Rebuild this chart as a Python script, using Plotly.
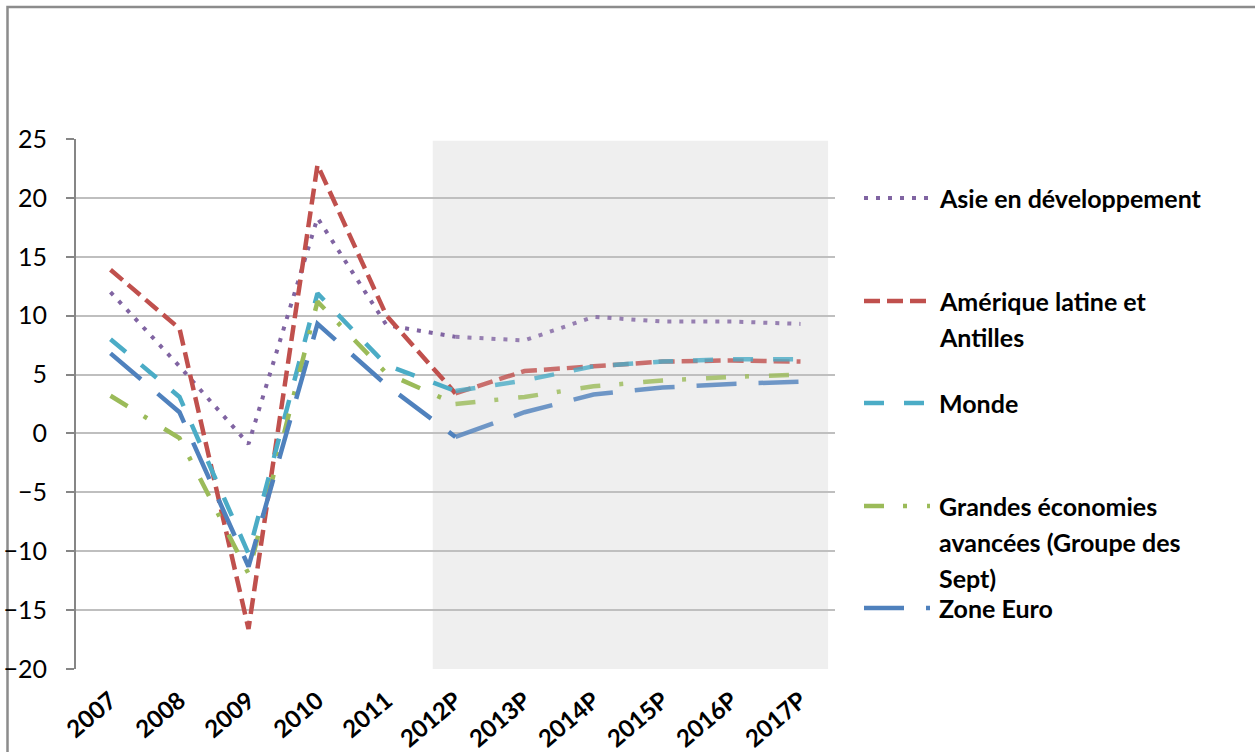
import plotly.graph_objects as go

# Années (P = projection)
years = ["2007", "2008", "2009", "2010", "2011", "2012P",
         "2013P", "2014P", "2015P", "2016P", "2017P"]

asie = [12.0, 5.7, -0.9, 18.3, 9.2, 8.2, 7.9, 9.9, 9.5, 9.5, 9.3]
amerique = [13.9, 8.9, -16.6, 22.8, 10.0, 3.4, 5.3, 5.7, 6.1, 6.2, 6.1]
monde = [8.0, 3.1, -10.2, 11.9, 5.8, 3.6, 4.5, 5.7, 6.1, 6.3, 6.3]
g7 = [3.2, -0.4, -11.9, 11.2, 5.1, 2.5, 3.1, 4.0, 4.5, 4.8, 5.0]
zone_euro = [6.8, 1.8, -11.3, 9.3, 4.1, -0.3, 1.8, 3.3, 3.9, 4.2, 4.4]

y_ticks = [-20, -15, -10, -5, 0, 5, 10, 15, 20, 25]

# nom (lignes de légende), valeurs, couleur, tirets, épaisseur
series = [
    (["Asie en développement"], asie, "#8064A2", "4px,8px", 4),
    (["Amérique latine et", "Antilles"], amerique, "#C0504D", "16px,7px", 4.5),
    (["Monde"], monde, "#4BACC6", "20px,20px", 4.5),
    (["Grandes économies", "avancées (Groupe des", "Sept)"], g7, "#9BBB59",
     "20px,19px,4px,20px", 4.5),
    (["Zone Euro"], zone_euro, "#4F81BD", "40px,22px", 4.5),
]

FONT = "Lato"
W, H = 1255, 752
L, R, T, B = 76, 835, 139, 669   # zone de tracé en pixels

def px(xp):
    return (xp - L) / (R - L)

def py(yp):
    return (B - yp) / (B - T)

split = years.index("2012P")

fig = go.Figure()

for names, vals, color, dash, width in series:
    # historique
    fig.add_trace(go.Scatter(
        x=years[:split + 1], y=vals[:split + 1], mode="lines",
        line=dict(color=color, width=width, dash=dash),
        showlegend=False, hoverinfo="x+y",
    ))
    # projections, un peu plus claires
    fig.add_trace(go.Scatter(
        x=years[split:], y=vals[split:], mode="lines",
        line=dict(color=color, width=width, dash=dash),
        opacity=0.8, showlegend=False, hoverinfo="x+y",
    ))

# zone grisée des projections
fig.add_shape(type="rect", xref="x", yref="y", x0=4.67, x1=10.4, y0=-20, y1=24.85,
              fillcolor="#EFEFEF", line=dict(width=0), layer="below")

# cadre extérieur
fig.add_shape(type="rect", xref="paper", yref="paper",
              x0=px(7.5), x1=px(1300), y0=py(800), y1=py(7),
              line=dict(color="#8C8C8C", width=2.5), fillcolor="rgba(0,0,0,0)",
              layer="below")

# légende à droite
legend_y = [198, 301, 403, 506, 608]
for (names, vals, color, dash, width), yl in zip(series, legend_y):
    fig.add_shape(type="line", xref="paper", yref="paper",
                  x0=px(864), x1=px(930), y0=py(yl), y1=py(yl),
                  line=dict(color=color, width=width, dash=dash))
    for i, line in enumerate(names):
        fig.add_annotation(
            xref="paper", yref="paper", x=px(937), y=py(yl + 36 * i),
            xanchor="left", yanchor="middle", showarrow=False,
            text="<b>" + line + "</b>",
            font=dict(family=FONT, size=25, color="black"),
        )

fig.update_layout(
    width=W, height=H,
    margin=dict(l=L, r=W - R, t=T, b=H - B, pad=0),
    plot_bgcolor="white", paper_bgcolor="white",
    showlegend=False,
    xaxis=dict(
        type="category", categoryorder="array", categoryarray=years,
        range=[-0.5, 10.5], showgrid=False, zeroline=False, showline=False,
        ticks="", tickangle=-40, ticklabelstandoff=12, automargin=False,
        tickfont=dict(family=FONT, size=24, color="black", weight="bold"),
    ),
    # ligne de l'axe des abscisses à y = 0, avec graduations
    xaxis2=dict(
        overlaying="x", anchor="free", position=20 / 45, side="bottom",
        range=[-0.5, 10.5], tickmode="array", automargin=False,
        tickvals=[i - 0.5 for i in range(len(years) + 1)],
        showticklabels=False, showgrid=False, zeroline=False,
        showline=True, linecolor="#868686", linewidth=2,
        ticks="outside", ticklen=8, tickwidth=2, tickcolor="#868686",
    ),
    yaxis=dict(
        range=[-20, 25], tickvals=y_ticks, showgrid=True, automargin=False,
        gridcolor="#BFBFBF", gridwidth=1.5, zeroline=False,
        showline=True, linecolor="#868686", linewidth=2,
        ticks="outside", ticklen=8, tickwidth=2, tickcolor="#868686",
        ticklabelstandoff=14,
        tickfont=dict(family=FONT, size=25, color="black"),
    ),
)

# la page est photographiée sans la marge par défaut du <body>
fig.write_html("out.html", config={"displayModeBar": False},
               post_script="document.body.style.margin = '0';")
